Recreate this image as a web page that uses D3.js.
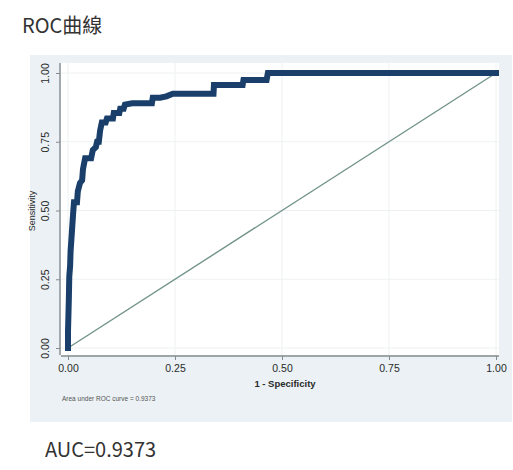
<!DOCTYPE html>
<html>
<head>
<meta charset="utf-8">
<script src="https://cdn.jsdelivr.net/npm/d3@7"></script>
<style>
  html, body { margin: 0; padding: 0; background: #ffffff; }
  svg { display: block; }
</style>
</head>
<body>
<svg id="chart" width="513" height="470"></svg>
<script>
// ROC curve points: false-positive rate (1 - specificity) and true-positive rate (sensitivity)
const fpr = [0, 0, 0.002, 0.003, 0.005, 0.006, 0.009, 0.012, 0.014, 0.021, 0.023, 0.028,
  0.033, 0.035, 0.040, 0.054, 0.058, 0.065, 0.068, 0.072, 0.075, 0.079, 0.088, 0.091,
  0.105, 0.107, 0.120, 0.122, 0.130, 0.133, 0.150, 0.196, 0.198, 0.215, 0.230, 0.245,
  0.340, 0.341, 0.408, 0.410, 0.464, 0.467, 1.0];
const tpr = [0, 0.06, 0.18, 0.26, 0.30, 0.35, 0.42, 0.49, 0.53, 0.53, 0.57, 0.60,
  0.61, 0.65, 0.69, 0.69, 0.72, 0.73, 0.75, 0.75, 0.79, 0.82, 0.82, 0.835,
  0.835, 0.855, 0.855, 0.87, 0.87, 0.885, 0.89, 0.89, 0.91, 0.91, 0.915, 0.925,
  0.925, 0.956, 0.956, 0.975, 0.975, 1.0, 1.0];
const tickValues = [0, 0.25, 0.5, 0.75, 1];
const auc = 0.9373;

const svg = d3.select("#chart");
const sans = "'Noto Sans CJK SC', 'Noto Sans', sans-serif";
const axisFont = "'Liberation Sans', Arial, sans-serif";

// Title above the graph panel
svg.append("text")
  .attr("x", 22).attr("y", 33)
  .attr("font-family", sans).attr("font-size", 20)
  .attr("fill", "#333").text("ROC曲線");

// Graph region (pale bluish panel)
svg.append("rect")
  .attr("x", 30).attr("y", 55).attr("width", 482).attr("height", 367)
  .attr("fill", "#ebf1f4");

// Plot region
const plot = { left: 61, right: 499, top: 63, bottom: 355 };
svg.append("rect")
  .attr("x", plot.left).attr("y", plot.top)
  .attr("width", plot.right - plot.left).attr("height", plot.bottom - plot.top)
  .attr("fill", "#ffffff");

const x = d3.scaleLinear().domain([0, 1]).range([68, 496]);
const y = d3.scaleLinear().domain([0, 1]).range([348, 73]);

// Faint grid lines
const grid = svg.append("g").attr("stroke", "#eef1f2").attr("stroke-width", 1);
tickValues.forEach(v => {
  grid.append("line").attr("x1", x(v)).attr("x2", x(v))
    .attr("y1", plot.top).attr("y2", plot.bottom);
  grid.append("line").attr("x1", plot.left).attr("x2", plot.right)
    .attr("y1", y(v)).attr("y2", y(v));
});

// Axes
const fmt = d3.format(".2f");
const xAxis = d3.axisBottom(x).tickValues(tickValues).tickFormat(fmt).tickSize(4).tickSizeOuter(0);
const gx = svg.append("g").attr("transform", `translate(0,${plot.bottom + 1})`).call(xAxis);
gx.select(".domain").attr("d", `M${plot.left},0H${plot.right}`);

const yAxis = d3.axisLeft(y).tickValues(tickValues).tickFormat(fmt).tickSize(4).tickSizeOuter(0);
const gy = svg.append("g").attr("transform", `translate(${plot.left - 1},0)`).call(yAxis);
gy.select(".domain").attr("d", `M0,${plot.top}V${plot.bottom}`);

[gx, gy].forEach(g => {
  g.selectAll(".domain").attr("stroke", "#858b8e").attr("stroke-width", 1.4);
  g.selectAll(".tick line").attr("stroke", "#858b8e");
  g.selectAll("text").attr("font-family", axisFont)
    .attr("font-size", 10.5).attr("fill", "#2a2a2a");
});
gx.selectAll("text").attr("dy", "0.9em");
gy.selectAll(".tick text")
  .attr("x", 0).attr("dy", 0)
  .attr("transform", "translate(-11,0) rotate(-90)")
  .attr("text-anchor", "middle");

// Axis titles
svg.append("text")
  .attr("x", 285).attr("y", 387).attr("text-anchor", "middle")
  .attr("font-family", axisFont).attr("font-size", 9.5).attr("font-weight", 600)
  .attr("fill", "#2a2a2a").text("1 - Specificity");
svg.append("text")
  .attr("transform", "translate(35,211) rotate(-90)").attr("text-anchor", "middle")
  .attr("font-family", axisFont).attr("font-size", 9)
  .attr("fill", "#2a2a2a").text("Sensitivity");

// Note with the area under the curve
svg.append("text")
  .attr("x", 62).attr("y", 401)
  .attr("font-family", axisFont).attr("font-size", 6.5)
  .attr("fill", "#555").text(`Area under ROC curve = ${auc.toFixed(4)}`);

// Chance diagonal
svg.append("line")
  .attr("x1", x(0)).attr("y1", y(0)).attr("x2", x(1)).attr("y2", y(1))
  .attr("stroke", "#72938a").attr("stroke-width", 1.4);

// ROC curve
const pts = fpr.map((f, i) => [f, tpr[i]]);
const line = d3.line().x(d => x(d[0])).y(d => y(d[1]));
svg.append("path")
  .datum(pts)
  .attr("d", line)
  .attr("fill", "none")
  .attr("stroke", "#1a3f6b")
  .attr("stroke-width", 6)
  .attr("stroke-linejoin", "miter")
  .attr("stroke-linecap", "square");

// AUC caption below the panel
svg.append("text")
  .attr("x", 45).attr("y", 457)
  .attr("font-family", sans).attr("font-size", 20)
  .attr("fill", "#333").text(`AUC=${auc.toFixed(4)}`);
</script>
</body>
</html>
